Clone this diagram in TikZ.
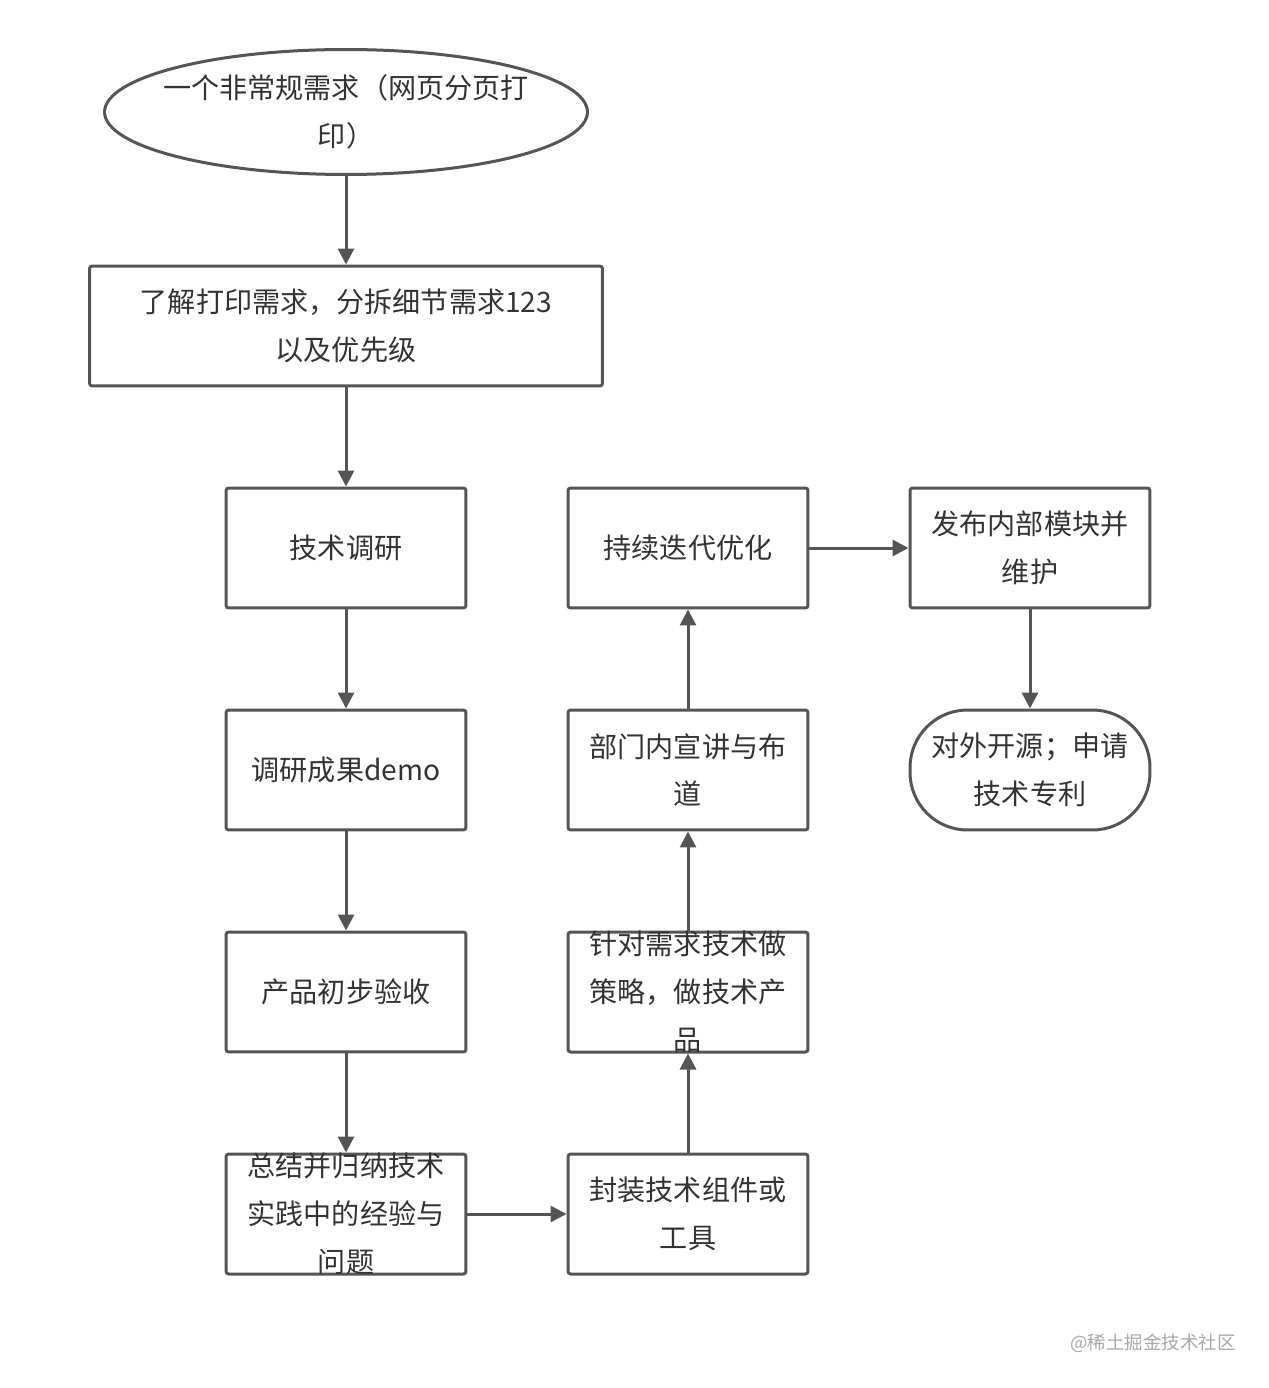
\documentclass[tikz,border=0pt]{standalone}
\usepackage{fontspec}
\usepackage{xcolor}
\usepackage{tikz}
\usetikzlibrary{positioning, arrows.meta, shapes.geometric}
\newfontfamily\cjk{Noto Sans CJK SC}
\definecolor{linegray}{HTML}{555555}
\definecolor{textgray}{HTML}{333333}
\definecolor{markgray}{HTML}{A8A8A8}

\begin{document}
\begin{tikzpicture}[
  x=0.02cm, y=-0.02cm,
  >={Triangle[length=0.32cm, width=0.32cm]},
  base/.style={draw=linegray, line width=0.06cm, align=center,
    text=textgray, font=\cjk\fontsize{16}{27.2}\selectfont,
    inner sep=0pt},
  stepbox/.style={base, rectangle, rounded corners=1.5pt,
    minimum width=4.8cm, minimum height=2.4cm},
  widebox/.style={stepbox, minimum width=10.26cm},
  overflow/.style={stepbox, text height=67.3pt, text depth=1pt},
  startnode/.style={base, ellipse, inner xsep=-0.24cm,
    minimum width=9.66cm, minimum height=2.5cm},
  endnode/.style={base, rectangle, rounded corners=1.15cm,
    minimum width=4.8cm, minimum height=2.4cm},
  arrow/.style={->, draw=linegray, line width=0.06cm},
]
\useasboundingbox (0,0) rectangle (1268,1388);

% ===== LEFT COLUMN =====
\node[startnode] (start) at (346, 112) {一个非常规需求（网页分页打\\印）};
\node[widebox] (understand) at (346, 326) {了解打印需求，分拆细节需求123\\以及优先级};
\node[stepbox] (research) at (346, 548) {技术调研};
\node[stepbox] (demo) at (346, 770) {调研成果demo};
\node[stepbox] (accept) at (346, 992) {产品初步验收};
\node[overflow] (summary) at (346, 1214) {总结并归纳技术\\实践中的经验与\\问题};

% ===== MIDDLE COLUMN =====
\node[stepbox] (pack) at (688, 1214) {封装技术组件或\\工具};
\node[overflow] (strategy) at (688, 992) {针对需求技术做\\策略，做技术产\\品};
\node[stepbox] (preach) at (688, 770) {部门内宣讲与布\\道};
\node[stepbox] (iterate) at (688, 548) {持续迭代优化};

% ===== RIGHT COLUMN =====
\node[stepbox] (publish) at (1030, 548) {发布内部模块并\\维护};
\node[endnode] (opensrc) at (1030, 770) {对外开源；申请\\技术专利};

% Arrows
\draw[arrow] (start) -- (understand);
\draw[arrow] (understand.south -| research) -- (research);
\draw[arrow] (research) -- (demo);
\draw[arrow] (demo) -- (accept);
\draw[arrow] (accept) -- (summary);
\draw[arrow] (summary) -- (pack);
\draw[arrow] (pack) -- (strategy);
\draw[arrow] (strategy) -- (preach);
\draw[arrow] (preach) -- (iterate);
\draw[arrow] (iterate) -- (publish);
\draw[arrow] (publish) -- (opensrc);

% Watermark
\node[font=\cjk\fontsize{10.5}{12}\selectfont, text=markgray] (watermark)
  at (1153, 1343) {@稀土掘金技术社区};

\end{tikzpicture}
\end{document}
